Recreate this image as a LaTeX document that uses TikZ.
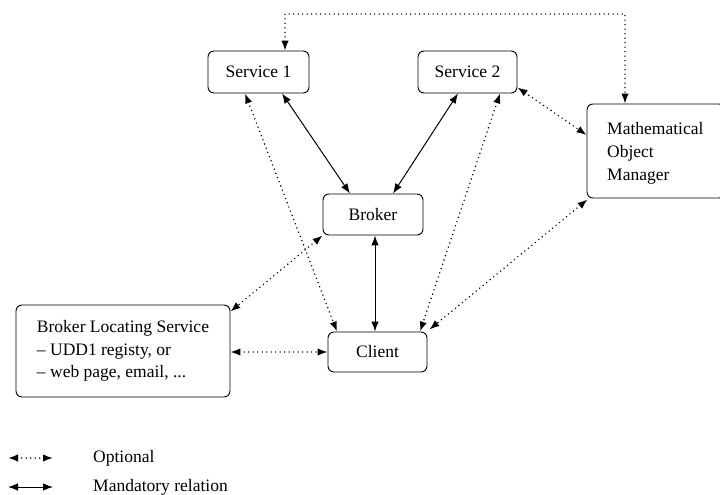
\documentclass[tikz,border=0pt]{standalone}
\usepackage{fontspec}
\setmainfont{Liberation Serif}
\usetikzlibrary{arrows.meta}
\tikzset{
  box/.style={draw, line width=0.9pt, rounded corners=6pt, inner sep=0pt,
              font=\fontsize{17.5}{22.5}\selectfont},
  tip/.tip={Latex[length=10pt,width=7.5pt]},
  rel/.style={line width=1pt, tip-tip},
  opt/.style={rel, line width=1.6pt, line cap=round, dash pattern=on 0pt off 4.5pt},
  legtext/.style={anchor=west, inner sep=0pt, font=\fontsize{17.5}{21}\selectfont}
}
\begin{document}
\begin{tikzpicture}[x=1pt,y=-1pt]
  \useasboundingbox (0,0) rectangle (720,495);

  % components
  \node[box, minimum width=101pt, minimum height=42pt] (s1) at (258.5,72) {Service 1};
  \node[box, minimum width=99pt, minimum height=42pt] (s2) at (467.5,72) {Service 2};
  \node[box, minimum width=100pt, minimum height=41pt] (br) at (373,214.5) {Broker};
  \node[box, minimum width=99pt, minimum height=40pt] (cl) at (377.5,352) {Client};
  \node[box, minimum width=214pt, minimum height=92pt, align=left] (bls) at (123,351)
    {Broker Locating Service\\ -- UDD1 registy, or\\ -- web page, email, ...};
  \node[box, minimum width=138pt, minimum height=94pt] (mom) at (656,151) {};
  \node[anchor=north west, inner sep=0pt, align=left, font=\fontsize{17.5}{23}\selectfont]
    (momtext) at (607,122) {Mathematical\\ Object\\ Manager};

  % mandatory relations
  \draw[rel] ([xshift=23.5pt]s1.south) -- ([xshift=-23pt]br.north);
  \draw[rel] ([xshift=-9.5pt]s2.south) -- ([xshift=20pt]br.north);
  \draw[rel] ([xshift=2pt]br.south) -- ([xshift=-2.5pt]cl.north);

  % optional relations
  \draw[opt] ([xshift=-13.5pt]s1.south) -- ([xshift=-40.5pt]cl.north);
  \draw[opt] ([xshift=32.5pt]s2.south) -- ([xshift=42.5pt]cl.north);
  \draw[opt] ([yshift=6pt]s2.south east) -- ([yshift=16pt]mom.west);
  \draw[opt] ([xshift=1pt,yshift=-1pt]mom.south west) -- ([xshift=2pt,yshift=2pt]cl.north east);
  \draw[opt] (br.south west) -- ([yshift=-7pt]bls.north east);
  \draw[opt] (bls.east |- cl.west) -- (cl.west);

  \coordinate (top) at (0,14);
  \coordinate (s1top) at ([xshift=26.5pt]s1.north);
  \coordinate (momtop) at ([xshift=-31pt]mom.north);
  \draw[opt] (s1top) -- (s1top |- top) -- (momtop |- top) -- (momtop);

  % legend
  \coordinate (o1) at (8,458);
  \coordinate (o2) at (53,458);
  \coordinate (m1) at (8,487);
  \coordinate (m2) at (53,487);
  \draw[opt] (o1) -- (o2);
  \draw[rel] (m1) -- (m2);
  \node[legtext] (lo) at (93,458) {Optional};
  \node[legtext] (lm) at (93,487) {Mandatory relation};
\end{tikzpicture}
\end{document}
